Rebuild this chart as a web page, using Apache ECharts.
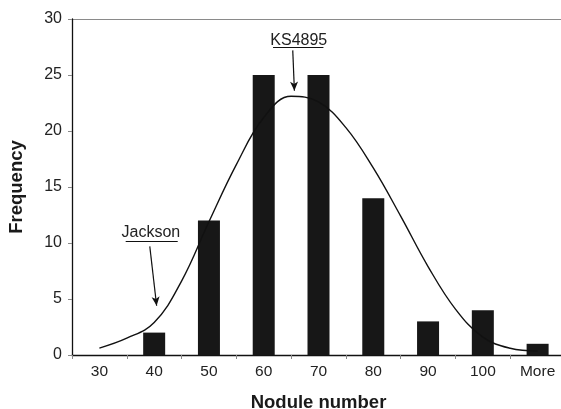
<!DOCTYPE html>
<html>
<head>
<meta charset="utf-8">
<script src="https://cdn.jsdelivr.net/npm/echarts@6/dist/echarts.min.js"></script>
<style>html,body{margin:0;padding:0;background:#fff}#c{width:561px;height:409px}</style>
</head>
<body>
<div id="c"></div>
<script>
// Histogram bins and frequencies
const categories = ['30', '40', '50', '60', '70', '80', '90', '100', 'More'];
const frequency = [0, 2, 12, 25, 25, 14, 3, 4, 1];
// Smoothed fitted curve (x in nodule number, 'More' placed at 110)
const curveX = [30, 35, 40, 45, 50, 55, 60, 65, 70, 75, 80, 85, 90, 95, 100, 105, 110];
const curveY = [0.62, 1.5, 2.9, 6.6, 11.9, 17.0, 21.2, 23.1, 22.6, 20.3, 16.7, 12.4, 7.9, 4.1, 1.6, 0.6, 0.35];
// Y axis ticks
const yMin = 0, yMax = 30, yStep = 5;
// Annotations (data coordinates: nodule number, frequency)
const labelNames = ['Jackson', 'KS4895'];
const labelAt = [[39.4, 10.9], [66.4, 28.1]];
const underlineFrom = [[34.8, 10.2], [61.7, 27.5]];
const underlineTo = [[44.3, 10.2], [70.9, 27.5]];
const arrowFrom = [[39.2, 9.7], [65.3, 27.2]];
const arrowTo = [[40.45, 4.4], [65.6, 23.6]];

const curveData = curveX.map((x, i) => [x, curveY[i]]);
const FONT = '"Liberation Sans", Arial, sans-serif';

const markLineData = [];
for (let i = 0; i < labelNames.length; i++) {
  markLineData.push([{coord: underlineFrom[i], symbol: 'none'}, {coord: underlineTo[i], symbol: 'none'}]);
  markLineData.push([{coord: arrowFrom[i], symbol: 'none'}, {coord: arrowTo[i], symbol: 'arrow', symbolSize: [6, 9]}]);
}

const chart = echarts.init(document.getElementById('c'), null, {renderer: 'canvas'});
chart.setOption({
  animation: false,
  backgroundColor: '#fff',
  grid: {left: 72, right: -4, top: 19, bottom: 54, containLabel: false, outerBoundsMode: 'none'},
  xAxis: [{
    type: 'category',
    data: categories,
    boundaryGap: true,
    name: 'Nodule number',
    nameLocation: 'middle',
    nameGap: 38,
    nameTextStyle: {fontFamily: FONT, fontWeight: 'bold', fontSize: 18.5, color: '#1a1a1a'},
    axisLine: {lineStyle: {color: '#111', width: 1.3}},
    axisTick: {show: true, length: 4, alignWithLabel: false, lineStyle: {color: '#888'}},
    axisLabel: {fontFamily: FONT, fontSize: 15.5, color: '#222', margin: 9},
    splitLine: {show: false}
  }, {
    type: 'value',
    min: 25, max: 115,
    show: false
  }],
  yAxis: {
    type: 'value',
    min: yMin, max: yMax, interval: yStep,
    name: 'Frequency',
    nameLocation: 'middle',
    nameGap: 46,
    nameTextStyle: {fontFamily: FONT, fontWeight: 'bold', fontSize: 18.5, color: '#1a1a1a'},
    axisLine: {show: true, lineStyle: {color: '#111', width: 1.3}},
    axisTick: {show: true, length: 4, lineStyle: {color: '#888'}},
    axisLabel: {fontFamily: FONT, fontSize: 16, color: '#222', margin: 10},
    splitLine: {show: true, lineStyle: {color: ['transparent', 'transparent', 'transparent', 'transparent', 'transparent', 'transparent', '#8a8a8a'], width: 1}}
  },
  series: [{
    type: 'line',
    xAxisIndex: 1,
    data: curveData,
    smooth: 0.4,
    symbol: 'none',
    lineStyle: {color: '#111', width: 1.4},
    silent: true,
    markLine: {
      silent: true,
      symbol: ['none', 'none'],
      label: {show: false},
      lineStyle: {color: '#111', width: 1.2, type: 'solid'},
      emphasis: {disabled: true},
      data: markLineData
    },
    markPoint: {
      silent: true,
      symbol: 'circle',
      symbolSize: 1,
      itemStyle: {color: 'rgba(0,0,0,0)'},
      label: {show: true, position: 'inside', fontFamily: FONT, fontSize: 16, color: '#222', formatter: p => p.name},
      data: labelNames.map((n, i) => ({name: n, coord: labelAt[i]}))
    }
  }, {
    type: 'bar',
    xAxisIndex: 0,
    data: frequency,
    barWidth: 22,
    itemStyle: {color: '#171717', borderWidth: 0},
    silent: true
  }]
});
</script>
</body>
</html>
